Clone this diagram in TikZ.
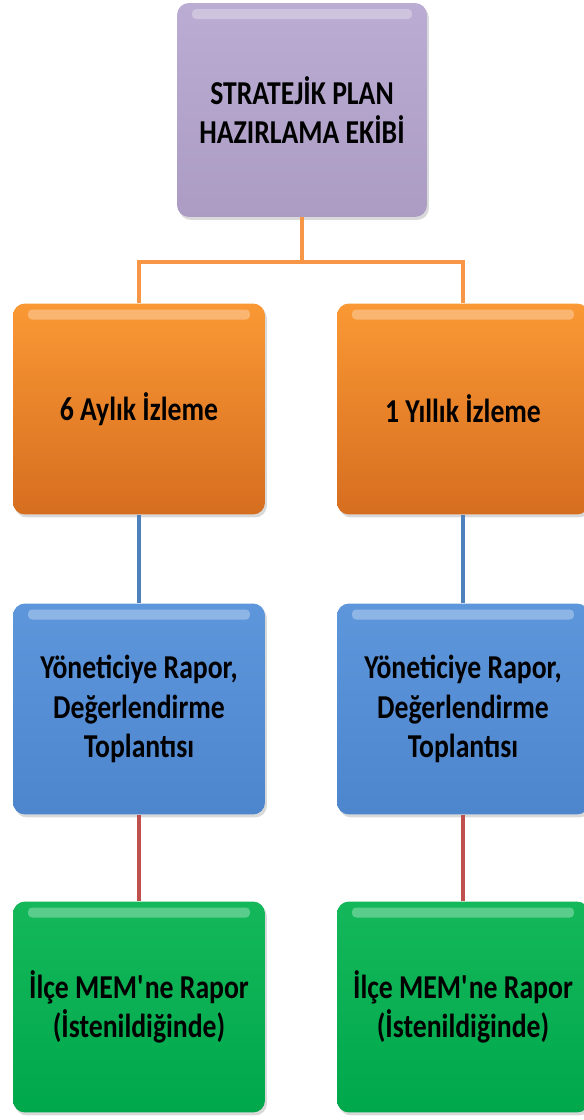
\documentclass[tikz,border=0pt]{standalone}
\usepackage{fontspec}
\setmainfont{Carlito}[FakeStretch=0.83]
\usepackage{xcolor}
\usetikzlibrary{shadows}

\definecolor{morUst}{RGB}{186,172,210}
\definecolor{morAlt}{RGB}{172,156,196}
\definecolor{turUst}{RGB}{250,152,52}
\definecolor{turAlt}{RGB}{214,110,32}
\definecolor{maviUst}{RGB}{94,150,220}
\definecolor{maviAlt}{RGB}{78,134,206}
\definecolor{yesUst}{RGB}{20,184,90}
\definecolor{yesAlt}{RGB}{0,168,76}
\definecolor{hatTur}{RGB}{247,150,70}
\definecolor{hatMavi}{RGB}{79,129,189}
\definecolor{hatKir}{RGB}{192,80,77}

\begin{document}
\begin{tikzpicture}[x=0.02cm,y=-0.02cm,
    kutu/.style={rectangle,rounded corners=0.24cm,minimum width=5.04cm,minimum height=4.22cm,
        align=center,font=\bfseries\fontsize{19}{22.5}\selectfont,
        drop shadow={opacity=0.3,shadow xshift=0.04cm,shadow yshift=-0.06cm},
        path picture={\fill[white,opacity=0.3,rounded corners=0.08cm]
            ([xshift=0.3cm,yshift=-0.12cm]path picture bounding box.north west) rectangle
            ([xshift=-0.3cm,yshift=-0.32cm]path picture bounding box.north east);}},
    mor/.style={kutu,top color=morUst,bottom color=morAlt},
    turuncu/.style={kutu,top color=turUst,bottom color=turAlt},
    mavi/.style={kutu,top color=maviUst,bottom color=maviAlt},
    yesil/.style={kutu,top color=yesUst,bottom color=yesAlt},
    hat/.style={line width=2.3pt}]
    \useasboundingbox (0,0) rectangle (583,1120);

    % ust kutu
    \node[mor,minimum width=5cm,minimum height=4.28cm] (ekip) at (302,110) {STRATEJİK PLAN\\HAZIRLAMA EKİBİ};

    % izleme kutulari
    \node[turuncu] (alti) at (139,409) {6 Aylık İzleme};
    \node[turuncu] (yil) at (463,409) {1 Yıllık İzleme};

    \node[mavi] (rapor1) at (139,709) {Yöneticiye Rapor,\\Değerlendirme\\Toplantısı};
    \node[mavi] (rapor2) at (463,709) {Yöneticiye Rapor,\\Değerlendirme\\Toplantısı};

    \node[yesil] (mem1) at (139,1007) {İlçe MEM\textquotesingle ne Rapor\\(İstenildiğinde)};
    \node[yesil] (mem2) at (463,1007) {İlçe MEM\textquotesingle ne Rapor\\(İstenildiğinde)};

    % baglantilar
    \coordinate (kol) at (302,262);
    \draw[hat,hatTur] (ekip.south) -- (kol) -| (alti.north);
    \draw[hat,hatTur] (kol) -| (yil.north);
    \draw[hat,hatMavi] (alti) -- (rapor1);
    \draw[hat,hatMavi] (yil) -- (rapor2);
    \draw[hat,hatKir] (rapor1) -- (mem1);
    \draw[hat,hatKir] (rapor2) -- (mem2);
\end{tikzpicture}
\end{document}
